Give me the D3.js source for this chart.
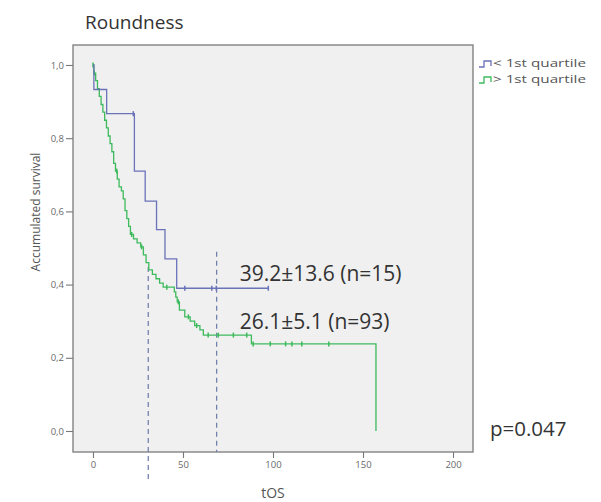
<!DOCTYPE html>
<html>
<head>
<meta charset="utf-8">
<script src="https://cdn.jsdelivr.net/npm/d3@7"></script>
<style>
  html, body { margin: 0; padding: 0; background: #ffffff; }
  svg { display: block; }
  text { font-family: "Open Sans", "Noto Sans", sans-serif; }
</style>
</head>
<body>
<svg id="chart" width="601" height="502"></svg>
<script>
// Kaplan–Meier survival for Roundness, split at the 1st quartile
const chartTitle = "Roundness";
const groupNames = ["< 1st quartile", "> 1st quartile"];

// Group below the 1st quartile: step times and survival after each step
const lowTimes = [0, 0.5, 7.6, 23, 29, 35.3, 40, 46.5, 97.4];
const lowSurv  = [1.0, 0.933, 0.867, 0.71, 0.628, 0.55, 0.47, 0.39, 0.39];
const lowCensored = [22.4, 51, 66, 68.5, 97.4];

// Group above the 1st quartile
const highTimes = [0, 0.5, 1.5, 2.5, 3.5, 4.5, 5.5, 6.5, 7.5, 8.5, 9.5, 10.5, 11.5, 12.5, 13.5,
  14.5, 15.8, 16.8, 17.8, 18.8, 19.8, 20.8, 22.5, 24.5, 26.5, 28, 29.5, 31, 33, 35, 37, 39,
  45.2, 46, 46.8, 48, 51, 54, 56.5, 59.4, 61.3, 88, 157.2];
const highSurv = [1.0, 0.978, 0.957, 0.935, 0.914, 0.892, 0.871, 0.849, 0.828, 0.806, 0.785, 0.763, 0.731, 0.71, 0.688,
  0.667, 0.656, 0.634, 0.602, 0.58, 0.559, 0.537, 0.525, 0.514, 0.503, 0.481, 0.46, 0.44, 0.428, 0.416, 0.404, 0.393,
  0.38, 0.366, 0.353, 0.33, 0.312, 0.3, 0.288, 0.276, 0.262, 0.238, 0.0];
const highCensored = [0, 0.7, 13.2, 21.5, 27, 41, 47.4, 53, 57.6, 64, 69.6, 78, 85.4, 89, 98.5, 107, 110.5, 116, 131];

// Dashed reference lines: time and survival where each starts
const refTimes = [30.7, 68.7];
const refTopSurv = [0.448, 0.49];

// Mean survival annotations
const annoTexts = ["39.2\u00b113.6 (n=15)", "26.1\u00b15.1 (n=93)"];
const annoTime = [81.5, 81.5];
const annoSurv = [0.41, 0.28];
const pText = "p=0.047";

const xTicks = [0, 50, 100, 150, 200];
const yTicks = [0, 0.2, 0.4, 0.6, 0.8, 1.0];
const xLabel = "tOS";
const yLabel = "Accumulated survival";

const colors = ["#6a72b8", "#3dba5c"];

const svg = d3.select("#chart");
const plot = { left: 73, right: 473, top: 45, bottom: 452 };

const x = d3.scaleLinear().domain([-11.1, 211.1]).range([plot.left, plot.right]);
const y = d3.scaleLinear().domain([-0.0574, 1.0546]).range([plot.bottom, plot.top]);

// plot area
svg.append("rect")
  .attr("x", plot.left).attr("y", plot.top)
  .attr("width", plot.right - plot.left).attr("height", plot.bottom - plot.top)
  .attr("fill", "#f0f0f0").attr("stroke", "#7a7a7a").attr("stroke-width", 1.3);

// axes
const fmt = d => d3.format(".1f")(d).replace(".", ",");
const yAxis = svg.append("g")
  .attr("transform", `translate(${plot.left},0)`)
  .call(d3.axisLeft(y).tickValues(yTicks).tickFormat(fmt).tickSize(7).tickSizeOuter(0).tickPadding(2));
const xAxis = svg.append("g")
  .attr("transform", `translate(0,${plot.bottom})`)
  .call(d3.axisBottom(x).tickValues(xTicks).tickSize(6).tickSizeOuter(0).tickPadding(3));
[yAxis, xAxis].forEach(g => {
  g.select(".domain").remove();
  g.selectAll(".tick line").attr("stroke", "#777").attr("stroke-width", 1.1);
  g.selectAll(".tick text").attr("fill", "#6a6a6a").style("font-size", "9.5px")
    .style("font-family", "'Open Sans', sans-serif");
});

// reference dashed lines
refTimes.forEach((t, i) => {
  svg.append("line")
    .attr("x1", x(t)).attr("x2", x(t))
    .attr("y1", y(refTopSurv[i]))
    .attr("y2", i === 0 ? plot.bottom + 31 : plot.bottom)
    .attr("stroke", "#6c7aa8").attr("stroke-width", 1.2)
    .attr("stroke-dasharray", "5,4");
});

// survival curves
const stepLine = d3.line().x(d => x(d[0])).y(d => y(d[1])).curve(d3.curveStepAfter);
const groups = [
  { times: lowTimes, surv: lowSurv, cens: lowCensored },
  { times: highTimes, surv: highSurv, cens: highCensored }
];
const survAt = (g, t) => {
  let s = g.surv[0];
  for (let i = 0; i < g.times.length; i++) {
    if (g.times[i] <= t && !(i === g.times.length - 1 && g.surv[i] === 0)) s = g.surv[i];
  }
  return s;
};

// draw the larger group first so the smaller one sits on top
[1, 0].forEach(gi => {
  const g = groups[gi];
  const pts = g.times.map((t, i) => [t, g.surv[i]]);
  svg.append("path")
    .attr("d", stepLine(pts))
    .attr("fill", "none").attr("stroke", colors[gi]).attr("stroke-width", 1.3);
  svg.append("g").selectAll("line").data(g.cens).join("line")
    .attr("x1", d => x(d)).attr("x2", d => x(d))
    .attr("y1", d => y(survAt(g, d)) - 2.5).attr("y2", d => y(survAt(g, d)) + 2.5)
    .attr("stroke", colors[gi]).attr("stroke-width", 1.5);
});

// annotations
annoTexts.forEach((s, i) => {
  svg.append("text")
    .attr("x", x(annoTime[i])).attr("y", y(annoSurv[i]))
    .attr("fill", "#333").style("font-size", "21px").text(s);
});
svg.append("text").attr("x", 490).attr("y", 436)
  .attr("fill", "#333").style("font-size", "20.5px").text(pText);

// title
svg.append("text").attr("x", 85).attr("y", 29)
  .attr("fill", "#333").style("font-size", "19px").text(chartTitle);

// axis labels
svg.append("text")
  .attr("transform", "translate(40,212) rotate(-90)")
  .attr("text-anchor", "middle").attr("fill", "#555")
  .style("font-size", "12px").text(yLabel);
svg.append("text").attr("x", x(100)).attr("y", 498)
  .attr("text-anchor", "middle").attr("fill", "#555")
  .style("font-size", "14px").text(xLabel);

// legend
const legend = svg.append("g");
groupNames.forEach((name, i) => {
  const ly = 67 + i * 16;
  legend.append("path")
    .attr("d", `M479,${ly} H484 V${ly - 6} H491 V${ly - 1}`)
    .attr("fill", "none").attr("stroke", colors[i]).attr("stroke-width", 1.3);
  legend.append("text").attr("x", 493).attr("y", ly)
    .attr("fill", "#555").style("font-size", "10.5px")
    .attr("textLength", 93).attr("lengthAdjust", "spacingAndGlyphs").text(name);
});
</script>
</body>
</html>
